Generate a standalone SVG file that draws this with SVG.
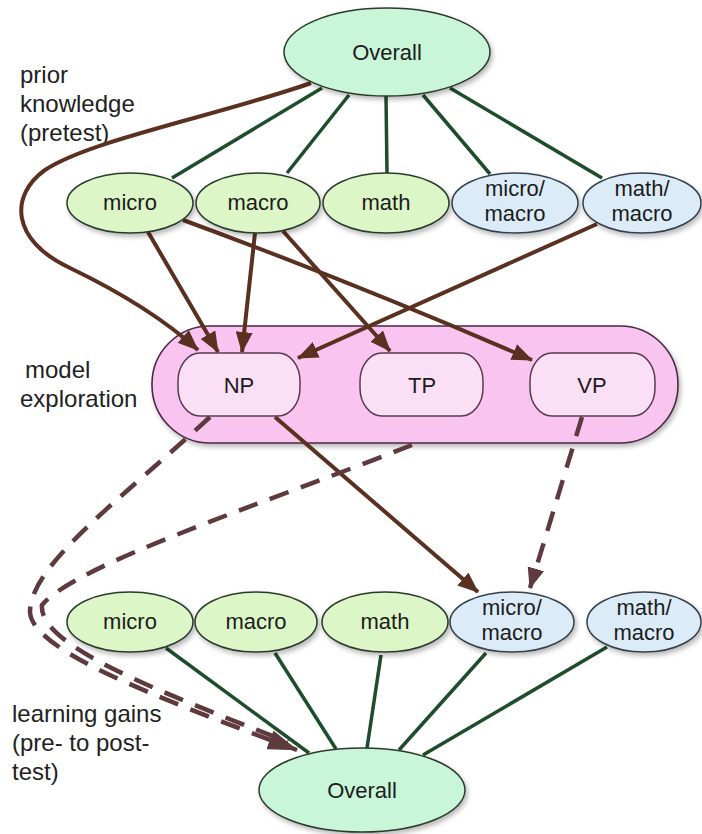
<svg xmlns="http://www.w3.org/2000/svg" width="702" height="834" viewBox="0 0 702 834">
<style>
.lbl{font-family:"Liberation Sans",Arial,sans-serif;font-size:24px;fill:#222}
.nt{font-family:"Liberation Sans",Arial,sans-serif;font-size:22px;fill:#1c1c1c;text-anchor:middle}
.ov{fill:#c9f5d8;stroke:#2c3a2c;stroke-width:1.5;filter:url(#sh)}
.gn{fill:#dcf6c8;stroke:#2c3a2c;stroke-width:1.5;filter:url(#sh)}
.bl{fill:#dcebf8;stroke:#34404c;stroke-width:1.5;filter:url(#sh)}
.pk{fill:#fac4f0;stroke:#4a2a44;stroke-width:1.6;filter:url(#sh)}
.ip{fill:#fbdff4;stroke:#5a3a52;stroke-width:1.5}
.tree{stroke:#1e4d2b;stroke-width:3.5;fill:none}
.arr{stroke:#5a3020;stroke-width:4;fill:none;marker-end:url(#ah)}
.dash{stroke:#5e3a3e;stroke-width:4.5;fill:none;stroke-dasharray:20 13}
</style>
<defs>
<filter id="sh" x="-20%" y="-20%" width="140%" height="150%">
<feDropShadow dx="2" dy="3" stdDeviation="2.5" flood-color="#000" flood-opacity="0.28"/>
</filter>
<marker id="ah" viewBox="0 0 21 17" refX="20" refY="8.5" markerWidth="21" markerHeight="17" markerUnits="userSpaceOnUse" orient="auto">
<path d="M0,0 L21,8.5 L0,17 z" fill="#5a3020"/>
</marker>
<marker id="ahd" viewBox="0 0 21 17" refX="20" refY="8.5" markerWidth="21" markerHeight="17" markerUnits="userSpaceOnUse" orient="auto">
<path d="M0,0 L21,8.5 L0,17 z" fill="#5e3a3e"/>
</marker>
<marker id="ahb" viewBox="0 0 30 20" refX="29" refY="10" markerWidth="30" markerHeight="20" markerUnits="userSpaceOnUse" orient="auto">
<path d="M0,0 L30,10 L0,20 z" fill="#5e3a3e"/>
</marker>
</defs>

<g id="labels">
<text class="lbl" x="20" y="83">prior</text>
<text class="lbl" x="20" y="112">knowledge</text>
<text class="lbl" x="20" y="141">(pretest)</text>
<text class="lbl" x="25" y="378">model</text>
<text class="lbl" x="20" y="407">exploration</text>
<text class="lbl" x="12" y="722">learning gains</text>
<text class="lbl" x="12" y="751">(pre- to post-</text>
<text class="lbl" x="12" y="780">test)</text>
</g>

<g id="model-exploration">
<rect class="pk" x="152" y="326" width="526" height="117" rx="58" ry="58"/>
</g>

<g id="connectors">
<line class="tree" x1="322" y1="88" x2="172" y2="178"/>
<line class="tree" x1="349" y1="95" x2="287" y2="173"/>
<line class="tree" x1="386" y1="96" x2="387" y2="173"/>
<line class="tree" x1="423" y1="95" x2="490" y2="174"/>
<line class="tree" x1="450" y1="88" x2="602" y2="178"/>

<line class="tree" x1="166" y1="648" x2="309" y2="753"/>
<line class="tree" x1="275" y1="653" x2="336" y2="749"/>
<line class="tree" x1="381" y1="655" x2="367" y2="748"/>
<line class="tree" x1="486" y1="653" x2="399" y2="750"/>
<line class="tree" x1="607" y1="647" x2="423" y2="755"/>

<path class="arr" d="M311,83 C220,115 90,140 45,170 C10,195 10,240 70,268 C120,292 165,320 198,350"/>
<line class="arr" x1="148" y1="232" x2="218" y2="352"/>
<line class="arr" x1="255" y1="233" x2="242" y2="352"/>
<line class="arr" x1="283" y1="231" x2="390" y2="351"/>
<path class="arr" d="M183,220 Q360,285 532,360"/>
<line class="arr" x1="597" y1="224" x2="298" y2="358"/>
<line class="arr" x1="275" y1="417" x2="478" y2="592"/>

<path class="dash" d="M582,417 L530,588" marker-end="url(#ahd)"/>
<path class="dash" d="M412,445 C260,505 75,565 42,605 C38,645 155,690 288,742"/>
<path class="dash" d="M210,417 C120,500 30,565 30,612 C32,650 150,695 297,750" marker-end="url(#ahb)"/>
</g>

<g id="overall-top">
<ellipse class="ov" cx="387" cy="52" rx="103" ry="44"/>
<text class="nt" x="387" y="60">Overall</text>
</g>
<g id="pre-micro">
<ellipse class="gn" cx="130" cy="203" rx="63" ry="30"/>
<text class="nt" x="130" y="210">micro</text>
</g>
<g id="pre-macro">
<ellipse class="gn" cx="258" cy="203" rx="62" ry="30"/>
<text class="nt" x="258" y="210">macro</text>
</g>
<g id="pre-math">
<ellipse class="gn" cx="386" cy="203" rx="63" ry="30"/>
<text class="nt" x="386" y="210">math</text>
</g>
<g id="pre-micro-macro">
<ellipse class="bl" cx="515" cy="203" rx="63" ry="30"/>
<text class="nt" x="515" y="196">micro/</text>
<text class="nt" x="515" y="221">macro</text>
</g>
<g id="pre-math-macro">
<ellipse class="bl" cx="642" cy="203" rx="59" ry="30"/>
<text class="nt" x="642" y="196">math/</text>
<text class="nt" x="642" y="221">macro</text>
</g>

<g id="NP">
<rect class="ip" x="178" y="353" width="122" height="63" rx="22" ry="28"/>
<text class="nt" x="239" y="393">NP</text>
</g>
<g id="TP">
<rect class="ip" x="360" y="353" width="123" height="63" rx="22" ry="28"/>
<text class="nt" x="422" y="393">TP</text>
</g>
<g id="VP">
<rect class="ip" x="530" y="353" width="125" height="63" rx="22" ry="28"/>
<text class="nt" x="592" y="393">VP</text>
</g>

<g id="gain-micro">
<ellipse class="gn" cx="130" cy="622" rx="63" ry="30"/>
<text class="nt" x="130" y="629">micro</text>
</g>
<g id="gain-macro">
<ellipse class="gn" cx="256" cy="622" rx="61" ry="30"/>
<text class="nt" x="256" y="629">macro</text>
</g>
<g id="gain-math">
<ellipse class="gn" cx="385" cy="622" rx="63" ry="30"/>
<text class="nt" x="385" y="629">math</text>
</g>
<g id="gain-micro-macro">
<ellipse class="bl" cx="512" cy="622" rx="62" ry="30"/>
<text class="nt" x="512" y="615">micro/</text>
<text class="nt" x="512" y="640">macro</text>
</g>
<g id="gain-math-macro">
<ellipse class="bl" cx="644" cy="622" rx="57" ry="30"/>
<text class="nt" x="644" y="615">math/</text>
<text class="nt" x="644" y="640">macro</text>
</g>
<g id="overall-bottom">
<ellipse class="ov" cx="362" cy="790" rx="103" ry="42"/>
<text class="nt" x="362" y="798">Overall</text>
</g>
</svg>
